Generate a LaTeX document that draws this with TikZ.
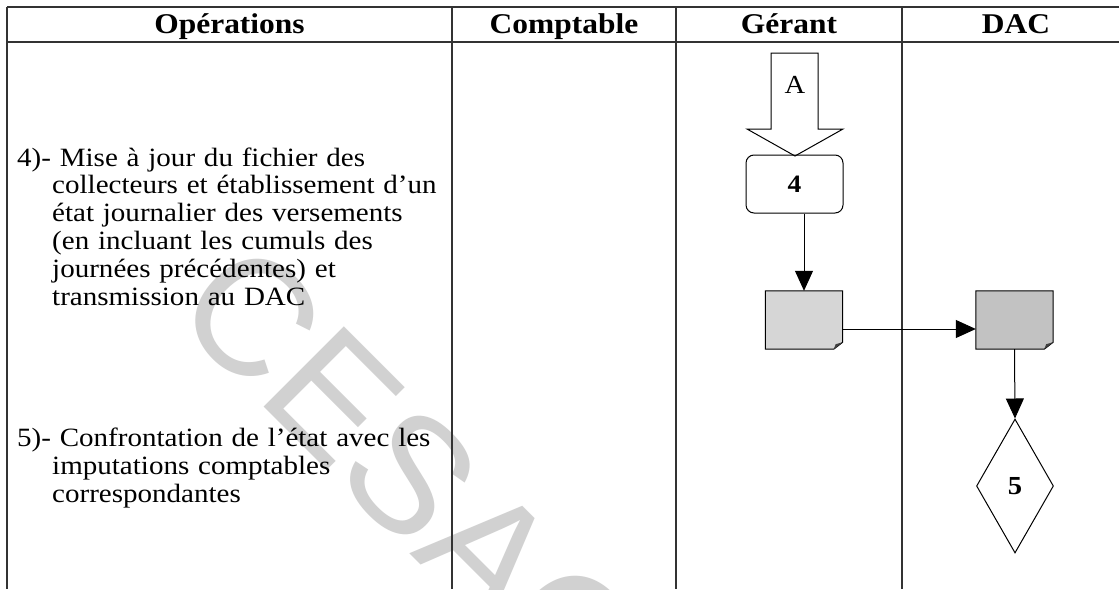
\documentclass[tikz,border=0pt]{standalone}
\usepackage{fontspec}
\setmainfont{Liberation Serif}[FakeStretch=1.1]
\newfontfamily\markfont{Liberation Sans}
\usetikzlibrary{arrows.meta,shapes.geometric}

\newcommand{\hg}{\hspace*{35pt}}

\tikzset{
  lane/.style={line width=1.1pt, black!80},
  head/.style={font=\fontsize{28.6}{32}\selectfont\bfseries, anchor=base, inner sep=0pt},
  body/.style={font=\fontsize{26.4}{27.8}\selectfont, anchor=base west, inner sep=0pt,
               text width=440pt, align=left},
  flow/.style={line width=1pt, -{Triangle[length=20pt,width=18pt]}},
  outline/.style={line width=1pt},
  proc/.style={draw, line width=1pt, rounded corners=8pt, minimum width=97pt,
               minimum height=58pt, inner sep=0pt, font=\fontsize{25}{28}\selectfont\bfseries},
  docnode/.style={minimum width=77pt, minimum height=58pt, inner sep=0pt},
  decision/.style={diamond, draw, line width=1pt, minimum width=77pt, minimum height=134pt,
                   inner sep=0pt, font=\fontsize{26}{28}\selectfont\bfseries},
  watermark/.style={font=\markfont\fontsize{165}{170}\selectfont, text=black!18,
                    rotate=-45, inner sep=0pt}
}

% document symbol drawn around an invisible node: folded lower right corner
\newcommand{\docsymbol}[2]{%
  \draw[outline, fill=#2] (#1.north west) -- (#1.north east) -- ([yshift=7pt]#1.south east)
    -- ([xshift=-9pt]#1.south east) -- (#1.south west) -- cycle;
  \fill[black!75] ([yshift=7pt]#1.south east) -- ([xshift=-9pt]#1.south east)
    -- ([xshift=-7pt,yshift=5pt]#1.south east) -- cycle;
}

\begin{document}
\begin{tikzpicture}[x=1pt,y=-1pt]
\useasboundingbox (0,0) rectangle (1119,589);
\fill[white] (0,0) rectangle (1119,589);

% background stamp
\node[watermark] (stamp) at (411,474) {CESAC};

% swimlane table
\draw[lane] (7,7) -- (1119,7);
\draw[lane] (7,42) -- (1119,42);
\draw[lane] (7,7) -- (7,589);
\draw[lane] (452,7) -- (452,589);
\draw[lane] (676,7) -- (676,589);
\draw[lane] (902,7) -- (902,589);

\node[head] (hop) at (229.5,33.5) {Opérations};
\node[head] (hco) at (564,33.5) {Comptable};
\node[head] (hge) at (789,33.5) {Gérant};
\node[head] (hda) at (1016,33.5) {DAC};

% operation descriptions
\node[body] (op4) at (17,166) {4)- Mise à jour du fichier des\\
\hg collecteurs et établissement d’un\\
\hg état journalier des versements\\
\hg (en incluant les cumuls des\\
\hg journées précédentes) et\\
\hg transmission au DAC};

\node[body] (op5) at (17,446.5) {5)- Confrontation de l’état avec les\\
\hg imputations comptables\\
\hg correspondantes};

% connector from the previous page
\draw[outline] (771,53) -- (818,53) -- (818,129) -- (843,129) -- (795,156)
  -- (747,129) -- (771,129) -- cycle;
\node[font=\fontsize{26}{28}\selectfont] (conA) at (795,85) {A};

% flow
\node[proc] (t4) at (794.5,184) {4};
\node[docnode] (d1) at (804,320) {};
\node[docnode] (d2) at (1014.5,320) {};
\docsymbol{d1}{black!16}
\docsymbol{d2}{black!24}
\node[decision] (t5) at (1015,486) {5};

\draw[flow] (t4.south -| d1.north) -- (d1.north);
\draw[flow] ([yshift=-9pt]d1.east) -- ([yshift=-9pt]d2.west);
\draw[flow] (d2.south) -- (t5.north);
\end{tikzpicture}
\end{document}
